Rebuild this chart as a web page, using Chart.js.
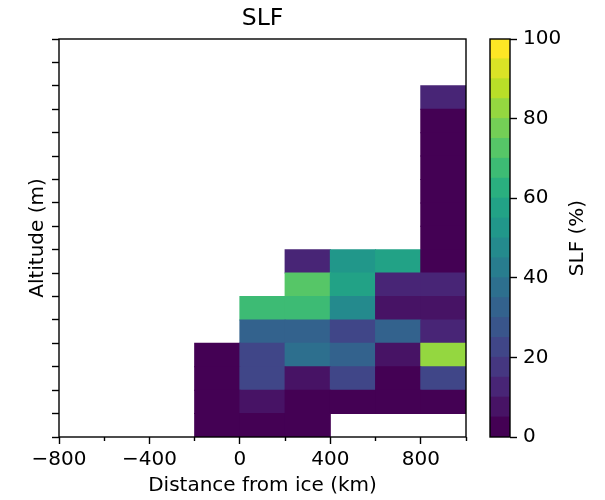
<!DOCTYPE html>
<html>
<head>
<meta charset="utf-8">
<script src="https://cdn.jsdelivr.net/npm/chart.js@4.4.0/dist/chart.umd.min.js"></script>
<style>
  body { margin: 0; background: #fff; }
  #wrap { position: relative; width: 605px; height: 500px; }
  #main { position: absolute; left: 0; top: 0; }
  #cbar { position: absolute; left: 480px; top: 0; }
</style>
</head>
<body>
<div id="wrap">
  <canvas id="main" width="525" height="500"></canvas>
  <canvas id="cbar" width="125" height="500"></canvas>
</div>
<script>
Chart.defaults.font.family = 'DejaVu Sans';
Chart.defaults.color = '#000';

// centre of each 200 km distance bin
const distCentres = [-100, 100, 300, 500, 700, 900];
// altitude bins, bottom to top (the original hides the altitude labels)
const altBins = [0, 1, 2, 3, 4, 5, 6, 7, 8, 9, 10, 11, 12, 13, 14];
// SLF (%) per altitude bin, columns follow distCentres, null = no data
const slfRows = [
  [2, 2, 2, null, null, null],
  [2, 7, 2, 2, 2, 2],
  [2, 22, 7, 22, 2, 22],
  [2, 22, 37, 32, 7, 82],
  [null, 32, 32, 22, 32, 12],
  [null, 67, 67, 47, 7, 7],
  [null, null, 72, 57, 12, 12],
  [null, null, 12, 52, 57, 2],
  [null, null, null, null, null, 2],
  [null, null, null, null, null, 2],
  [null, null, null, null, null, 2],
  [null, null, null, null, null, 2],
  [null, null, null, null, null, 2],
  [null, null, null, null, null, 2],
  [null, null, null, null, null, 12]
];
// colour bar edges (%)
const cbarEdges = [0, 5, 10, 15, 20, 25, 30, 35, 40, 45, 50, 55, 60, 65, 70, 75, 80, 85, 90, 95, 100];
// viridis cut into 20 levels
const viridis20 = [
  '#440154', '#471365', '#482576', '#453781', '#404688',
  '#39558b', '#33628d', '#2d6f8e', '#287d8e', '#248a8d',
  '#21978a', '#22a286', '#2aaf7f', '#3dbb74', '#56c667',
  '#74cf56', '#94d740', '#b9de28', '#dae326', '#fde725'
];

function slfColor(v) {
  for (let i = cbarEdges.length - 2; i >= 0; i--) {
    if (v >= cbarEdges[i]) return viridis20[i];
  }
  return viridis20[0];
}

function fmtKm(v) {
  return v < 0 ? '\u2212' + (-v) : String(v);
}

const frame = {
  id: 'frame',
  afterDatasetsDraw(chart) {
    const { ctx, chartArea: a } = chart;
    ctx.save();
    ctx.strokeStyle = '#000';
    ctx.lineWidth = 1.4;
    ctx.strokeRect(a.left, a.top, a.right - a.left, a.bottom - a.top);
    ctx.restore();
  }
};

const cbarLabel = {
  id: 'cbarLabel',
  afterDraw(chart) {
    const ctx = chart.ctx;
    ctx.save();
    ctx.translate(98, 238);
    ctx.rotate(-Math.PI / 2);
    ctx.font = '20px "DejaVu Sans"';
    ctx.fillStyle = '#000';
    ctx.textAlign = 'center';
    ctx.textBaseline = 'middle';
    ctx.fillText('SLF (%)', 0, 0);
    ctx.restore();
  }
};

const cellSets = altBins.map((alt, r) => ({
  data: distCentres
    .map((x, c) => slfRows[r][c] === null ? null : { x: x, y: [alt, alt + 1], v: slfRows[r][c] })
    .filter(p => p),
  backgroundColor: ctx => ctx.raw ? slfColor(ctx.raw.v) : '#000',
  grouped: false,
  barPercentage: 1,
  categoryPercentage: 1,
  borderWidth: 0,
  inflateAmount: 0.5
}));

new Chart(document.getElementById('main'), {
  type: 'bar',
  data: { datasets: cellSets },
  options: {
    responsive: false,
    animation: false,
    layout: { padding: { left: 0, right: 59, top: 0, bottom: 0 } },
    plugins: {
      legend: { display: false },
      tooltip: { enabled: false },
      title: {
        display: true, text: 'SLF', fullSize: false, color: '#000',
        font: { size: 23.5, weight: 'normal' },
        padding: { top: 4.5, bottom: 6.3 }
      }
    },
    scales: {
      x: {
        type: 'linear', min: -800, max: 1000, offset: false,
        border: { display: false },
        grid: {
          offset: false, drawOnChartArea: false, tickLength: 7, tickWidth: 1.4, tickColor: '#000',
          tickBorderDash: ctx => (ctx.tick && ctx.tick.value % 400 !== 0) ? [4, 20] : []
        },
        ticks: {
          stepSize: 200, autoSkip: false, maxRotation: 0, padding: 4,
          font: { size: 20 },
          callback: v => v % 400 === 0 ? fmtKm(v) : ''
        },
        title: { display: true, text: 'Distance from ice (km)', font: { size: 20 }, padding: { top: 0, bottom: 2 } },
        afterFit: s => { s.height = 63; }
      },
      y: {
        type: 'linear', min: 0, max: 17,
        border: { display: false },
        grid: { drawOnChartArea: false, tickLength: 7, tickWidth: 1.4, tickColor: '#000' },
        ticks: { display: false, stepSize: 1 },
        title: { display: true, text: 'Altitude (m)', font: { size: 20 }, padding: { top: 26, bottom: 0 } },
        afterFit: s => { s.width = 59; }
      }
    }
  },
  plugins: [frame]
});

new Chart(document.getElementById('cbar'), {
  type: 'bar',
  data: {
    labels: ['SLF'],
    datasets: viridis20.map((col, i) => ({
      data: [[cbarEdges[i], cbarEdges[i + 1]]],
      backgroundColor: col,
      grouped: false,
      barPercentage: 1,
      categoryPercentage: 1,
      borderWidth: 0,
      inflateAmount: 0.5
    }))
  },
  options: {
    responsive: false,
    animation: false,
    layout: { padding: { left: 10, right: 0, top: 39, bottom: 63 } },
    plugins: { legend: { display: false }, tooltip: { enabled: false } },
    scales: {
      x: { display: false },
      y: {
        position: 'right', min: 0, max: 100,
        border: { display: false },
        grid: { drawOnChartArea: false, tickLength: 7, tickWidth: 1.4, tickColor: '#000' },
        ticks: { stepSize: 20, padding: 6, font: { size: 20 } },
        afterFit: s => { s.width = 95; }
      }
    }
  },
  plugins: [frame, cbarLabel]
});
</script>
</body>
</html>
